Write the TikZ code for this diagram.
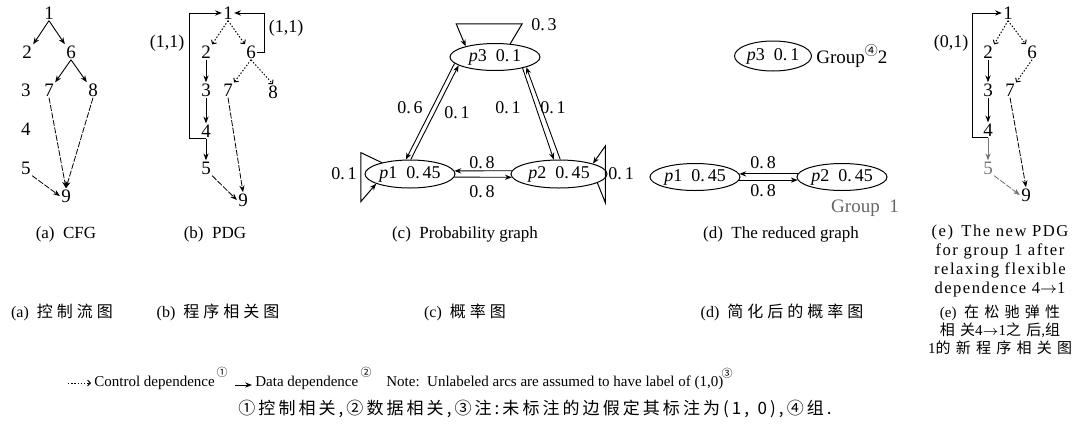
\documentclass[tikz,border=0pt]{standalone}
\usepackage{fontspec}
\setmainfont{Liberation Serif}
\newfontfamily\wideserif[LetterSpace=9]{Liberation Serif}
\newfontfamily\cjk{Noto Sans CJK SC}
\newfontfamily\cjks[LetterSpace=25]{Noto Sans CJK SC}
\newfontfamily\cjke[LetterSpace=35]{Noto Sans CJK SC}
\newfontfamily\cjkl[LetterSpace=18]{Noto Sans CJK SC}
\usetikzlibrary{arrows.meta,shapes.geometric}
\begin{document}
\begin{tikzpicture}[x=0.5pt,y=-0.5pt,
 num/.style={inner sep=0.5pt,font=\fontsize{9.5}{10}\selectfont},
 data/.style={line width=0.45pt,-{Stealth[length=3.4pt,width=2.6pt]}},
 ctrl/.style={line width=0.5pt,dash pattern=on 0.7pt off 0.9pt,-{Straight Barb[length=1.4pt,width=3pt]}},
 weak/.style={line width=0.4pt,dash pattern=on 3pt off 0.8pt,-{Stealth[length=3.4pt,width=2.6pt]}},
 loopl/.style={line width=0.5pt,-{Stealth[length=3.4pt,width=2.6pt]}},
 pnode/.style={ellipse,draw,line width=0.5pt,inner sep=0pt,font=\fontsize{9}{10}\selectfont},
 lab/.style={inner sep=0pt,font=\fontsize{9}{10}\selectfont},
 capt/.style={inner sep=0pt,font=\fontsize{8.5}{10}\selectfont},
 ccapt/.style={inner sep=0pt,font=\fontsize{8}{9}\selectfont},
 legt/.style={inner sep=0pt,font=\fontsize{7.5}{9}\selectfont},
 supt/.style={inner sep=0pt,font=\cjk\fontsize{5.5}{6}\selectfont},
]
\useasboundingbox (0,0) rectangle (1079,429);
% ---------------- (a) CFG
\node[num] (a1) at (49,13) {1};
\node[num] (a2) at (27,52) {2};
\node[num] (a6) at (71,52) {6};
\node[num] (a3) at (26,90) {3};
\node[num] (a7) at (49,90) {7};
\node[num] (a8) at (93,90) {8};
\node[num] (a4) at (26,129) {4};
\node[num] (a5) at (26,168) {5};
\node[num] (a9) at (66,196) {9};
\draw[data] (a1.south) -- (a2.north east);
\draw[data] (a1.south) -- (a6.north west);
\draw[data] (a6.south) -- (a7.north east);
\draw[data] (a6.south) -- (a8.north west);
\draw[weak] (a7.south) -- (a9.north);
\draw[weak] (a8.south) -- (a9.north);
\draw[weak] (a5.south east) -- (a9.west);
% ---------------- (b) PDG
\node[num] (b1) at (228,13) {1};
\node[num] (b2) at (206,52) {2};
\node[num] (b6) at (251,52) {6};
\node[num] (b3) at (206,90) {3};
\node[num] (b7) at (228,90) {7};
\node[num] (b8) at (273,92) {8};
\node[num] (b4) at (206,131) {4};
\node[num] (b5) at (206,168) {5};
\node[num] (b9) at (243,200) {9};
\draw[ctrl] (b1.south) -- (b2.north east);
\draw[ctrl] (b1.south) -- (b6.north west);
\draw[ctrl] (b6.south) -- (b7.north east);
\draw[ctrl] (b6.south) -- (b8.north);
\draw[data] (b2) -- (b3);
\draw[data] (b3) -- (b4);
\draw[data] (b4) -- (b5);
\draw[weak] (b7.south) -- (b9.north);
\draw[weak] (b5.south east) -- (b9.west);
\draw[loopl] (b4.south) -- ++(-17,0) |- (b1.west);
\draw[loopl] (b6.east) -- ++(7,0) |- (b1.east);
\node[lab] (bl1) at (167,43) {(1,1)};
\node[lab] (bl2) at (286,28) {(1,1)};
% ---------------- (c) probability graph
\node[pnode,minimum width=45pt,minimum height=13.5pt] (p3) at (495,57) {\textit{p}3\enspace0.\,1};
\node[pnode,minimum width=45pt,minimum height=14pt] (p1) at (410,174) {\textit{p}1\enspace0.\,45};
\node[pnode,minimum width=48pt,minimum height=14pt] (p2) at (559,174) {\textit{p}2\enspace0.\,45};
\draw[data] (p3.189) -- (p1.106);
\draw[data] (p1.87) -- (p3.193);
\draw[data] (p3.338) -- (p2.110);
\draw[data] (p2.85) -- (p3.342);
\draw[data] (p2.176) -- (p1.4);
\draw[data] (p1.-4) -- (p2.184);
\draw[loopl] (p3.41) -- ++(12,-20) -- ++(-66,0) -- (p3.160);
\draw[loopl] (p1.158) -- ++(-21,-10) -- ++(0,49) -- (p1.196);
\draw[loopl] (p2.-13) -- ++(8,20) -- ++(0,-57) -- (p2.17);
\node[lab] (c03) at (544,25) {0.\,3};
\node[lab] (c06) at (410,108) {0.\,6};
\node[lab] (c01a) at (457,113) {0.\,1};
\node[lab] (c01b) at (508,108) {0.\,1};
\node[lab] (c01c) at (553,108) {0.\,1};
\node[lab] (c08a) at (482,163) {0.\,8};
\node[lab] (c08b) at (482,192) {0.\,8};
\node[lab] (c01d) at (344,174) {0.\,1};
\node[lab] (c01e) at (621,174) {0.\,1};
% ---------------- (d) reduced graph
\node[pnode,minimum width=38.5pt,minimum height=15pt] (q3) at (773,56) {\textit{p}3\enspace0.\,1};
\node[pnode,minimum width=45pt,minimum height=13.5pt] (q1) at (695,177) {\textit{p}1\enspace0.\,45};
\node[pnode,minimum width=45pt,minimum height=13.5pt] (q2) at (842,177) {\textit{p}2\enspace0.\,45};
\draw[data] (q2.176) -- (q1.4);
\draw[data] (q1.-4) -- (q2.184);
\node[lab] (d08a) at (763,163) {0.\,8};
\node[lab] (d08b) at (763,191) {0.\,8};
\node[lab,anchor=west,font=\fontsize{9.5}{10}\selectfont] (g2) at (816,56) {Group\raisebox{0.9ex}{\cjk\fontsize{6.5}{6}\selectfont ④}2};
\node[lab,text=black!60,font=\fontsize{9.5}{10}\selectfont] (g1) at (865,208) {Group\enspace1};
% ---------------- (e) new PDG
\node[num] (e1) at (1008,13) {1};
\node[num] (e2) at (988,52) {2};
\node[num] (e6) at (1032,52) {6};
\node[num] (e3) at (988,90) {3};
\node[num] (e7) at (1010,90) {7};
\node[num] (e4) at (988,130) {4};
\node[num,text=black!55] (e5) at (988,168) {5};
\node[num] (e9) at (1026,195) {9};
\draw[ctrl] (e1.south) -- (e2.north east);
\draw[ctrl] (e1.south) -- (e6.north west);
\draw[ctrl] (e6.south) -- (e7.north east);
\draw[data] (e2) -- (e3);
\draw[data] (e3) -- (e4);
\draw[data,black!55] (e4) -- (e5);
\draw[weak] (e7.south) -- (e9.north);
\draw[weak,black!55] (e5.south east) -- (e9.west);
\draw[loopl] (e4.south) -- ++(-16,0) |- (e1.west);
\node[lab] (el1) at (951,43) {(0,1)};
% ---------------- captions
\node[capt] (ca) at (66,234) {(a)\enspace CFG};
\node[capt] (cb) at (215,234) {(b)\enspace PDG};
\node[capt] (cc) at (465,234) {(c)\enspace Probability graph};
\node[capt] (cd) at (781,234) {(d)\enspace The reduced graph};
\node[capt,align=center,font=\wideserif\fontsize{8.3}{9.4}\selectfont] (ce) at (1000,261) {(e)\enspace The new PDG\\for group 1 after\\relaxing flexible\\dependence 4$\to$1};
\node[ccapt] (za) at (62,312) {(a)\enspace{\cjks 控制流图}};
\node[ccapt] (zb) at (218,312) {(b)\enspace{\cjks 程序相关图}};
\node[ccapt] (zc) at (465,312) {(c)\enspace{\cjks 概率图}};
\node[ccapt] (zd) at (782,312) {(d)\enspace{\cjks 简化后的概率图}};
\node[ccapt,align=center,font=\fontsize{7.5}{9.1}\selectfont] (ze) at (1000,330) {(e)\enspace{\cjke 在松驰弹性}\\{\cjke 相关}4$\to$1{\cjke 之后},{\cjke 组}\\1{\cjke 的新程序相关图}};
% ---------------- legend
\coordinate (ls) at (68,383);
\coordinate (le) at (91,383);
\draw[ctrl] (ls) -- (le);
\node[legt,anchor=west] (lc) at (94,383) {Control dependence};
\node[supt] (s1) at (222,372) {①};
\coordinate (ds) at (235,385);
\coordinate (de) at (252,385);
\draw[data] (ds) -- (de);
\node[legt,anchor=west] (ld) at (255,383) {Data dependence};
\node[supt] (s2) at (366,372) {②};
\node[legt,anchor=west] (ln) at (386,383) {Note:\enspace Unlabeled arcs are assumed to have label of (1,0)};
\node[supt] (s3) at (727,373) {③};
\node[legt,font=\cjkl\fontsize{8.5}{9}\selectfont] (lz) at (535,409) {①控制相关,②数据相关,③注:未标注的边假定其标注为(1,\enspace0),④组.};
\end{tikzpicture}
\end{document}
